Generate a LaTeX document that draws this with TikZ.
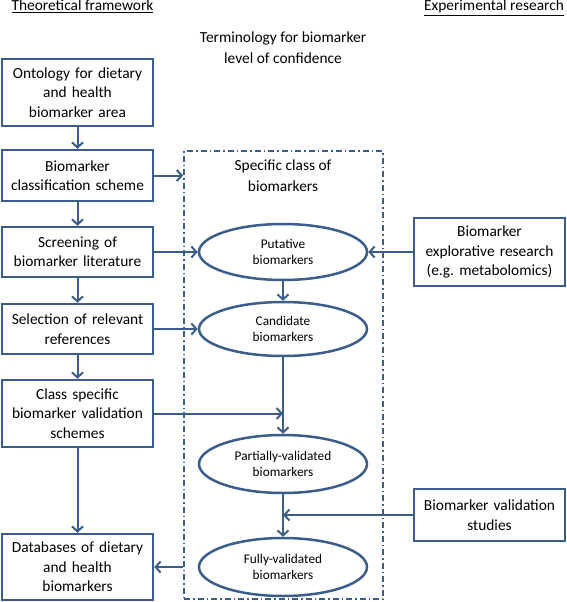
\documentclass[tikz,border=0pt]{standalone}
\usepackage{fontspec}
\setmainfont{Carlito}
\usepackage{tikz}
\usetikzlibrary{arrows.meta,shapes.geometric}
\definecolor{bmblue}{HTML}{3A5D8C}

\begin{document}
\begin{tikzpicture}[
            x = 1pt, y = -1pt,
            > = {Straight Barb[length=5pt,width=11pt,line width=2pt]}, % arrow head style
            every path/.style = {line width=2pt},
            box/.style = {draw=bmblue, line width=2.5pt, rectangle, align=center,
                          minimum width=151pt, text width=148pt, inner xsep=1pt,
                          font=\fontsize{15.4}{19.5}\selectfont},
            oval/.style = {draw=bmblue, line width=2.5pt, ellipse, align=center,
                          minimum width=168pt, inner sep=0pt,
                          font=\fontsize{13.3}{16.5}\selectfont},
            link/.style = {draw=bmblue, ->},
            heading/.style = {font=\fontsize{15.4}{21}\selectfont, align=center}
        ]
\useasboundingbox (0,0) rectangle (567,602);

% headings
\node[heading, anchor=base] (TF) at (82.5,11) {\underline{Theoretical framework}};
\node[heading, anchor=base] (ER) at (494,11) {\underline{Experimental research}};
\node[heading] (TL) at (283,47.5) {Terminology for biomarker\\level of confidence};

% dashed frame
\node[draw=bmblue, line width=1.8pt, dash pattern=on 6pt off 3pt on 1.5pt off 3pt,
      minimum width=199pt, minimum height=448pt, inner sep=0pt] (spec) at (283.5,375) {};
\node[heading] (SC) at (283,176) {Specific class of\\biomarkers};

% theoretical framework
\node[box, minimum height=67pt] (onto) at (77.5,92.5) {Ontology for dietary\\and health\\biomarker area};
\node[box, minimum height=51pt] (clas) at (77.5,175.5) {Biomarker\\classification scheme};
\node[box, minimum height=50pt] (scrn) at (77.5,252) {Screening of\\biomarker literature};
\node[box, minimum height=50pt] (sele) at (77.5,329) {Selection of relevant\\references};
\node[box, minimum height=67pt] (vsch) at (77.5,413.5) {Class specific\\biomarker validation\\schemes};
\node[box, minimum height=66pt] (dbas) at (77.5,567) {Databases of dietary\\and health\\biomarkers};

% levels of confidence
\node[oval, minimum height=56pt] (puta) at (283,252) {Putative\\biomarkers};
\node[oval, minimum height=54pt] (cand) at (283,329) {Candidate\\biomarkers};
\node[oval, minimum height=58pt] (part) at (283,464) {Partially-validated\\biomarkers};
\node[oval, minimum height=58pt] (full) at (283,567) {Fully-validated\\biomarkers};

% experimental research
\node[box, minimum height=68pt] (expl) at (489.5,252) {Biomarker\\explorative research\\(e.g.\ metabolomics)};
\node[box, minimum height=52pt] (vstu) at (489.5,515) {Biomarker validation\\studies};

\path[link] (onto) -- (clas);
\path[link] (clas) -- (scrn);
\path[link] (scrn) -- (sele);
\path[link] (sele) -- (vsch);
\path[link] (vsch) -- (dbas);
\path[link] (clas.east) -- (clas.east -| spec.west);
\path[link] (scrn) -- (puta);
\path[link] (sele) -- (cand);
\path[link] (expl) -- (puta);
\path[link] (puta) -- (cand);
\path[link] (cand) -- (part);
\path[link] (vsch.east) -- (vsch.east -| cand.south);
\path[link] (part) -- (full);
\path[link] (vstu.west) -- (vstu.west -| part.south);
\path[link] (full.west -| spec.west) -- (dbas.east);
\end{tikzpicture}
\end{document}
